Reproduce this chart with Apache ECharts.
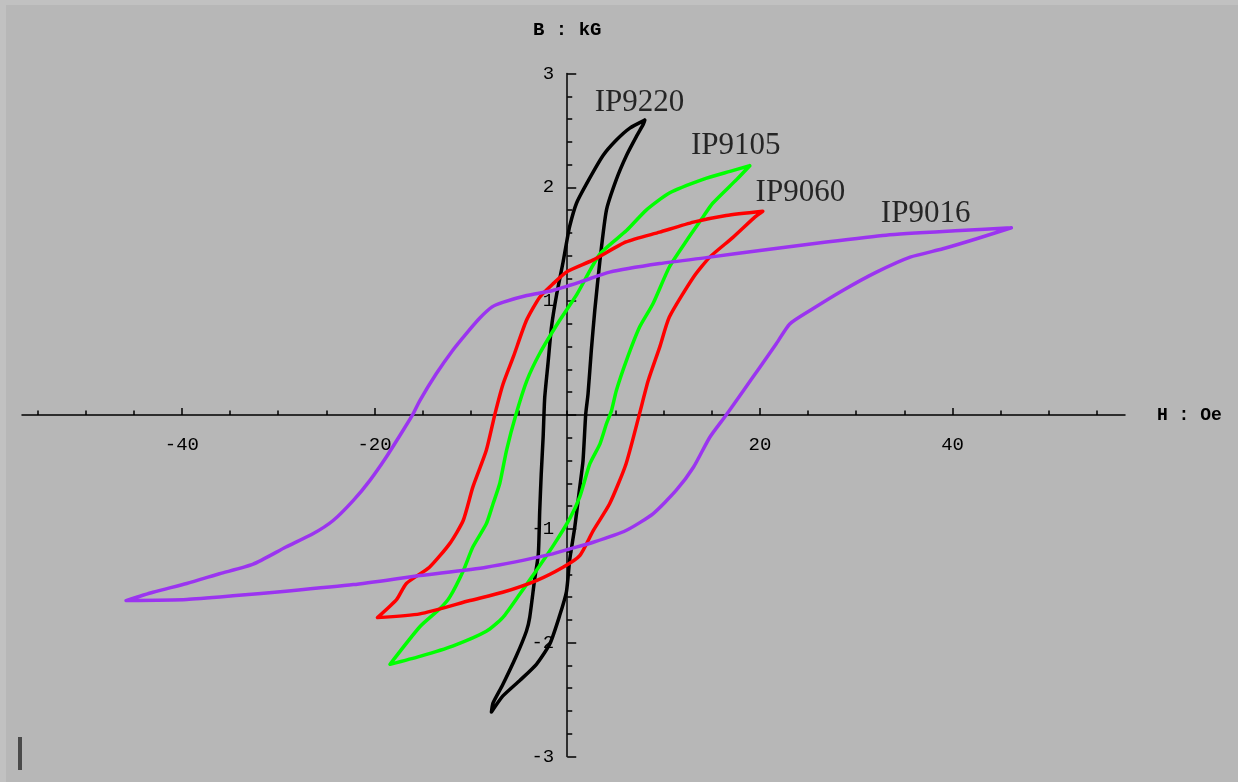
<!DOCTYPE html>
<html>
<head>
<meta charset="utf-8">
<script src="https://cdn.jsdelivr.net/npm/echarts@6/dist/echarts.min.js"></script>
<style>
html,body{margin:0;padding:0;}
#chart{width:1238px;height:782px;background:#b7b7b7;box-shadow:inset 6px 5px 0 #c1c1c1;}
</style>
</head>
<body>
<div id="chart"></div>
<script>
// ---- data (H in Oe, B in kG) ----
var curveNames = ['IP9220', 'IP9105', 'IP9060', 'IP9016'];

var ip9220Desc = [[8.05,2.59],[6.5,2.52],[5.1,2.415],[3.7,2.277],[2.0,2.03],[0.96,1.86],[0.26,1.66],[-0.08,1.51],[-0.44,1.34],[-1.12,1.05],[-1.64,0.77],[-2.0,0.45],[-2.34,0.15],[-2.5,-0.19],[-2.7,-0.52],[-2.86,-0.85],[-3.0,-1.22],[-3.4,-1.454],[-3.9,-1.78],[-4.24,-1.9],[-5.3,-2.12],[-6.7,-2.37],[-7.7,-2.53],[-7.87,-2.61]];
var ip9220Asc = [[-7.87,-2.61],[-6.7,-2.47],[-4.9,-2.33],[-3.2,-2.19],[-1.8,-2.01],[-0.78,-1.76],[-0.08,-1.55],[0.26,-1.27],[0.78,-0.986],[1.3,-0.634],[1.64,-0.4],[1.92,0.01],[2.16,0.186],[2.5,0.567],[2.86,0.92],[3.4,1.36],[4.07,1.8],[5.1,2.07],[6.15,2.28],[7.2,2.45],[7.9,2.555],[8.05,2.59]];

var ip9105Desc = [[18.95,2.19],[16.9,2.14],[14.1,2.07],[10.6,1.95],[8.2,1.8],[6.15,1.62],[3.4,1.415],[1.0,1.06],[-0.8,0.83],[-2.86,0.54],[-4.2,0.3],[-5.3,0.01],[-6.3,-0.31],[-7.0,-0.6],[-7.7,-0.78],[-8.4,-0.956],[-9.8,-1.16],[-10.8,-1.37],[-12.2,-1.6],[-13.2,-1.7],[-15.3,-1.86],[-18.4,-2.19]];
var ip9105Asc = [[-18.4,-2.19],[-15.3,-2.12],[-11.9,-2.03],[-8.4,-1.9],[-6.7,-1.78],[-4.9,-1.57],[-3.2,-1.366],[-1.47,-1.15],[0.26,-0.91],[1.3,-0.72],[2.34,-0.43],[3.4,-0.253],[4.07,-0.077],[4.6,0.04],[5.1,0.215],[6.15,0.48],[7.5,0.77],[8.9,0.977],[10.6,1.3],[12.4,1.533],[14.1,1.74],[15.1,1.86],[17.6,2.07],[18.95,2.19]];

var ip9060Desc = [[20.3,1.79],[16.5,1.753],[13.1,1.694],[9.6,1.606],[6.1,1.52],[2.65,1.36],[0,1.26],[-1.5,1.15],[-2.86,1.035],[-4.24,0.83],[-5.6,0.51],[-6.67,0.27],[-7.5,0.01],[-8.4,-0.31],[-9.8,-0.634],[-10.8,-0.927],[-12.2,-1.13],[-14.3,-1.337],[-16.7,-1.48],[-17.7,-1.62],[-19.7,-1.78]];
var ip9060Asc = [[-19.7,-1.78],[-15.3,-1.747],[-10.1,-1.63],[-6.7,-1.557],[-3.2,-1.454],[-0.44,-1.337],[1.3,-1.235],[2.7,-1.015],[4.4,-0.78],[6.1,-0.43],[7.5,0.01],[8.4,0.3],[9.6,0.596],[10.6,0.86],[13.1,1.21],[14.8,1.387],[17.2,1.56],[19.5,1.74],[20.3,1.79]];

var ip9016Desc = [[46.1,1.645],[40.8,1.62],[33.1,1.58],[26.9,1.52],[20.0,1.445],[14.8,1.387],[9.6,1.33],[4.4,1.255],[1.3,1.167],[-1.5,1.094],[-4.2,1.05],[-6.7,0.99],[-7.8,0.95],[-9.1,0.85],[-10.5,0.713],[-11.9,0.567],[-13.6,0.362],[-15.3,0.127],[-16.0,0.01],[-17.05,-0.136],[-18.8,-0.371],[-20.5,-0.576],[-22.2,-0.75],[-24.3,-0.927],[-26.4,-1.044],[-29.2,-1.16],[-32.6,-1.31],[-36.1,-1.395],[-39.5,-1.48],[-43.0,-1.557],[-45.8,-1.63]];
var ip9016Asc = [[-45.8,-1.63],[-39.5,-1.62],[-34.4,-1.586],[-29.2,-1.548],[-22.2,-1.49],[-15.3,-1.41],[-8.4,-1.337],[-1.5,-1.22],[0.26,-1.176],[2.7,-1.118],[6.1,-1.015],[8.9,-0.868],[11.3,-0.663],[13.1,-0.459],[14.8,-0.195],[16.5,0],[18.3,0.215],[20.0,0.42],[21.7,0.626],[23.1,0.8],[25.2,0.918],[28.6,1.094],[32.1,1.255],[35.6,1.387],[39.0,1.46],[42.5,1.548],[46.1,1.645]];

var xMinorTicks = [-55,-50,-45,-35,-30,-25,-15,-10,-5,0,5,10,15,25,30,35,45,50,55];
var xMajorTicks = [-40,-20,20,40];

// ---- layout ----
var W = 1238, Hh = 782;
var gridL = 22, gridR = 113, gridT = 73.5, gridB = 25.5;
var xMin = -56.6, xMax = 57.9, yMin = -3, yMax = 3;
var yAxisOffset = -((W - gridL - gridR) * (0 - xMin) / (xMax - xMin));
var xAxisOffset = -((Hh - gridT - gridB) * (0 - yMin) / (yMax - yMin));

var monoFont = 'Liberation Mono';
var chart = echarts.init(document.getElementById('chart'), null, {renderer: 'canvas'});

function loop(name, desc, asc, color, z) {
  return {
    name: name, type: 'line', xAxisIndex: 0, yAxisIndex: 0,
    data: desc.concat(asc.slice(1)),
    showSymbol: false, symbol: 'none', smooth: 0.2, z: z,
    lineStyle: {color: color, width: 3.5, join: 'round', cap: 'round'}
  };
}
function tag(name, pos) {
  return {
    type: 'scatter', xAxisIndex: 0, yAxisIndex: 0, silent: true, z: 10,
    symbolSize: 0, data: [pos],
    label: {show: true, position: 'inside', formatter: name,
      fontFamily: 'Liberation Serif', fontSize: 31, color: '#000'}
  };
}

chart.setOption({
  animation: false,
  backgroundColor: 'transparent',
  grid: {left: gridL, right: gridR, top: gridT, bottom: gridB, outerBoundsMode: 'none', containLabel: false},
  xAxis: [{
    type: 'value', min: xMin, max: xMax, position: 'bottom', offset: xAxisOffset,
    axisLine: {onZero: false, lineStyle: {color: '#000', width: 1.5}},
    axisTick: {show: true, inside: true, length: 4.5, customValues: xMinorTicks, lineStyle: {color: '#000', width: 1.5}},
    axisLabel: {customValues: xMajorTicks, margin: 20, fontFamily: monoFont, fontSize: 19, color: '#000'},
    splitLine: {show: false},
    name: 'H : Oe', nameLocation: 'end', nameGap: 32,
    nameTextStyle: {fontFamily: monoFont, fontSize: 18, color: '#000', fontWeight: 'bold'}
  }, {
    type: 'value', min: xMin, max: xMax, position: 'bottom', offset: xAxisOffset,
    axisLine: {show: false, onZero: false},
    axisTick: {show: true, inside: true, length: 7, customValues: xMajorTicks, lineStyle: {color: '#000', width: 1.5}},
    axisLabel: {show: false},
    splitLine: {show: false}
  }],
  yAxis: {
    type: 'value', min: yMin, max: yMax, interval: 1, position: 'left', offset: yAxisOffset,
    axisLine: {onZero: false, lineStyle: {color: '#000', width: 1.5}},
    axisTick: {show: true, inside: true, length: 9, lineStyle: {color: '#000', width: 1.5}},
    minorTick: {show: true, splitNumber: 5, length: 5, lineStyle: {color: '#000', width: 1.5}},
    axisLabel: {margin: 13, fontFamily: monoFont, fontSize: 19, color: '#000',
      formatter: function (v) { return v === 0 ? '' : String(v); }},
    splitLine: {show: false},
    minorSplitLine: {show: false},
    name: 'B : kG', nameLocation: 'end', nameGap: 34,
    nameTextStyle: {fontFamily: monoFont, fontSize: 19, color: '#000', fontWeight: 'bold'}
  },
  graphic: [{type: 'rect', left: 18, top: 737, shape: {width: 4, height: 33}, style: {fill: '#4a4a4a'}}],
  series: [
    loop(curveNames[0], ip9220Desc, ip9220Asc, '#000000', 3),
    loop(curveNames[1], ip9105Desc, ip9105Asc, '#00ff00', 4),
    loop(curveNames[2], ip9060Desc, ip9060Asc, '#ff0000', 5),
    loop(curveNames[3], ip9016Desc, ip9016Asc, '#9b34f0', 6),
    tag(curveNames[0], [7.5, 2.74]),
    tag(curveNames[1], [17.5, 2.36]),
    tag(curveNames[2], [24.2, 1.95]),
    tag(curveNames[3], [37.2, 1.77])
  ]
});
</script>
</body>
</html>
